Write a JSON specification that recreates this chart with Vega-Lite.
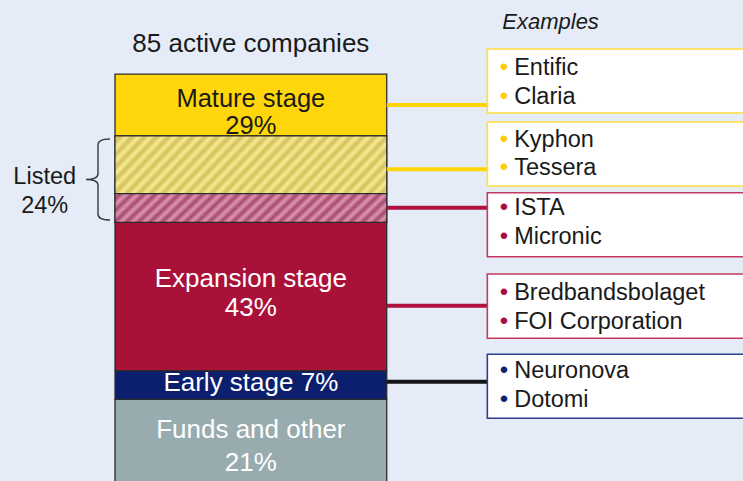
{
  "$schema": "https://vega.github.io/schema/vega-lite/v6.json",
  "width": 743,
  "height": 481,
  "autosize": {"type": "fit", "contains": "padding"},
  "padding": 0,
  "background": "#E5ECF7",
  "config": {"view": {"stroke": null}, "axis": {"disable": true}, "text": {"font": "Liberation Sans"}},
  "datasets": {
    "segments": [
      {"segment": "Funds and other", "stage": "Funds and other", "status": "Unlisted", "share": 21, "order": 1},
      {"segment": "Early stage", "stage": "Early stage", "status": "Unlisted", "share": 7, "order": 2},
      {"segment": "Expansion stage, unlisted", "stage": "Expansion stage", "status": "Unlisted", "share": 36, "order": 3},
      {"segment": "Expansion stage, listed", "stage": "Expansion stage", "status": "Listed", "share": 7, "order": 4},
      {"segment": "Mature stage, listed", "stage": "Mature stage", "status": "Listed", "share": 14, "order": 5},
      {"segment": "Mature stage, unlisted", "stage": "Mature stage", "status": "Unlisted", "share": 15, "order": 6}
    ],
    "stages": [
      {"stage": "Mature stage", "share": 29, "label": ["Mature stage", "29%"]},
      {"stage": "Expansion stage", "share": 43, "label": ["Expansion stage", "43%"]},
      {"stage": "Early stage", "share": 7, "label": "Early stage 7%"},
      {"stage": "Funds and other", "share": 21, "label": ["Funds and other", "21%"]},
      {"stage": "Listed", "share": 24, "label": ["Listed", "24%"]}
    ],
    "examples": [
      {"segment": "Mature stage, unlisted", "companies": ["Entific", "Claria"]},
      {"segment": "Mature stage, listed", "companies": ["Kyphon", "Tessera"]},
      {"segment": "Expansion stage, listed", "companies": ["ISTA", "Micronic"]},
      {"segment": "Expansion stage, unlisted", "companies": ["Bredbandsbolaget", "FOI Corporation"]},
      {"segment": "Early stage", "companies": ["Neuronova", "Dotomi"]}
    ]
  },
  "layer": [
    {
      "data": {"name": "segments"},
      "transform": [{"stack": "share", "groupby": [], "sort": [{"field": "order", "order": "ascending"}], "as": ["start", "end"]}],
      "encoding": {
        "x": {"datum": 15.48, "type": "quantitative", "scale": {"domain": [0, 100], "nice": false, "zero": false}, "axis": null},
        "x2": {"datum": 52.05},
        "y": {"field": "start", "type": "quantitative", "scale": {"domain": [1.2, 118], "nice": false, "zero": false}, "axis": null},
        "y2": {"field": "end"}
      },
      "layer": [
        {
          "mark": {"type": "rect", "stroke": "#2b2b2b", "strokeWidth": 1.3, "clip": true},
          "encoding": {
            "color": {"field": "segment", "type": "nominal", "legend": null,
              "scale": {"domain": ["Funds and other", "Early stage", "Expansion stage, unlisted", "Expansion stage, listed", "Mature stage, listed", "Mature stage, unlisted"],
                        "range": ["#98ABAF", "#0C1F6E", "#AA1139", "#C56A8C", "#EAD977", "#FFD60A"]}}
          }
        },
        {
          "transform": [{"filter": "datum.segment === 'Mature stage, listed'"}],
          "mark": {"type": "rect", "stroke": "#2b2b2b", "strokeWidth": 1.2,
            "fill": {"gradient": "linear", "x1": 0, "y1": 0, "x2": 1.2, "y2": 0.243, "stops": [
              {"offset": 0, "color": "#F7EA92"},{"offset": 0.0179, "color": "#D3C05A"},{"offset": 0.0357, "color": "#F7EA92"},{"offset": 0.0536, "color": "#D3C05A"},{"offset": 0.0714, "color": "#F7EA92"},{"offset": 0.0893, "color": "#D3C05A"},{"offset": 0.1071, "color": "#F7EA92"},{"offset": 0.125, "color": "#D3C05A"},{"offset": 0.1429, "color": "#F7EA92"},{"offset": 0.1607, "color": "#D3C05A"},{"offset": 0.1786, "color": "#F7EA92"},{"offset": 0.1964, "color": "#D3C05A"},{"offset": 0.2143, "color": "#F7EA92"},{"offset": 0.2321, "color": "#D3C05A"},{"offset": 0.25, "color": "#F7EA92"},{"offset": 0.2679, "color": "#D3C05A"},{"offset": 0.2857, "color": "#F7EA92"},{"offset": 0.3036, "color": "#D3C05A"},{"offset": 0.3214, "color": "#F7EA92"},{"offset": 0.3393, "color": "#D3C05A"},{"offset": 0.3571, "color": "#F7EA92"},{"offset": 0.375, "color": "#D3C05A"},{"offset": 0.3929, "color": "#F7EA92"},{"offset": 0.4107, "color": "#D3C05A"},{"offset": 0.4286, "color": "#F7EA92"},{"offset": 0.4464, "color": "#D3C05A"},{"offset": 0.4643, "color": "#F7EA92"},{"offset": 0.4821, "color": "#D3C05A"},{"offset": 0.5, "color": "#F7EA92"},{"offset": 0.5179, "color": "#D3C05A"},{"offset": 0.5357, "color": "#F7EA92"},{"offset": 0.5536, "color": "#D3C05A"},{"offset": 0.5714, "color": "#F7EA92"},{"offset": 0.5893, "color": "#D3C05A"},{"offset": 0.6071, "color": "#F7EA92"},{"offset": 0.625, "color": "#D3C05A"},{"offset": 0.6429, "color": "#F7EA92"},{"offset": 0.6607, "color": "#D3C05A"},{"offset": 0.6786, "color": "#F7EA92"},{"offset": 0.6964, "color": "#D3C05A"},{"offset": 0.7143, "color": "#F7EA92"},{"offset": 0.7321, "color": "#D3C05A"},{"offset": 0.75, "color": "#F7EA92"},{"offset": 0.7679, "color": "#D3C05A"},{"offset": 0.7857, "color": "#F7EA92"},{"offset": 0.8036, "color": "#D3C05A"},{"offset": 0.8214, "color": "#F7EA92"},{"offset": 0.8393, "color": "#D3C05A"},{"offset": 0.8571, "color": "#F7EA92"},{"offset": 0.875, "color": "#D3C05A"},{"offset": 0.8929, "color": "#F7EA92"},{"offset": 0.9107, "color": "#D3C05A"},{"offset": 0.9286, "color": "#F7EA92"},{"offset": 0.9464, "color": "#D3C05A"},{"offset": 0.9643, "color": "#F7EA92"},{"offset": 0.9821, "color": "#D3C05A"},{"offset": 1, "color": "#F7EA92"}
            ]}}
        },
        {
          "transform": [{"filter": "datum.segment === 'Expansion stage, listed'"}],
          "mark": {"type": "rect", "stroke": "#2b2b2b", "strokeWidth": 1.2,
            "fill": {"gradient": "linear", "x1": 0, "y1": 0, "x2": 1.2, "y2": 0.1325, "stops": [
              {"offset": 0, "color": "#DD96B0"},{"offset": 0.0179, "color": "#A7486C"},{"offset": 0.0357, "color": "#DD96B0"},{"offset": 0.0536, "color": "#A7486C"},{"offset": 0.0714, "color": "#DD96B0"},{"offset": 0.0893, "color": "#A7486C"},{"offset": 0.1071, "color": "#DD96B0"},{"offset": 0.125, "color": "#A7486C"},{"offset": 0.1429, "color": "#DD96B0"},{"offset": 0.1607, "color": "#A7486C"},{"offset": 0.1786, "color": "#DD96B0"},{"offset": 0.1964, "color": "#A7486C"},{"offset": 0.2143, "color": "#DD96B0"},{"offset": 0.2321, "color": "#A7486C"},{"offset": 0.25, "color": "#DD96B0"},{"offset": 0.2679, "color": "#A7486C"},{"offset": 0.2857, "color": "#DD96B0"},{"offset": 0.3036, "color": "#A7486C"},{"offset": 0.3214, "color": "#DD96B0"},{"offset": 0.3393, "color": "#A7486C"},{"offset": 0.3571, "color": "#DD96B0"},{"offset": 0.375, "color": "#A7486C"},{"offset": 0.3929, "color": "#DD96B0"},{"offset": 0.4107, "color": "#A7486C"},{"offset": 0.4286, "color": "#DD96B0"},{"offset": 0.4464, "color": "#A7486C"},{"offset": 0.4643, "color": "#DD96B0"},{"offset": 0.4821, "color": "#A7486C"},{"offset": 0.5, "color": "#DD96B0"},{"offset": 0.5179, "color": "#A7486C"},{"offset": 0.5357, "color": "#DD96B0"},{"offset": 0.5536, "color": "#A7486C"},{"offset": 0.5714, "color": "#DD96B0"},{"offset": 0.5893, "color": "#A7486C"},{"offset": 0.6071, "color": "#DD96B0"},{"offset": 0.625, "color": "#A7486C"},{"offset": 0.6429, "color": "#DD96B0"},{"offset": 0.6607, "color": "#A7486C"},{"offset": 0.6786, "color": "#DD96B0"},{"offset": 0.6964, "color": "#A7486C"},{"offset": 0.7143, "color": "#DD96B0"},{"offset": 0.7321, "color": "#A7486C"},{"offset": 0.75, "color": "#DD96B0"},{"offset": 0.7679, "color": "#A7486C"},{"offset": 0.7857, "color": "#DD96B0"},{"offset": 0.8036, "color": "#A7486C"},{"offset": 0.8214, "color": "#DD96B0"},{"offset": 0.8393, "color": "#A7486C"},{"offset": 0.8571, "color": "#DD96B0"},{"offset": 0.875, "color": "#A7486C"},{"offset": 0.8929, "color": "#DD96B0"},{"offset": 0.9107, "color": "#A7486C"},{"offset": 0.9286, "color": "#DD96B0"},{"offset": 0.9464, "color": "#A7486C"},{"offset": 0.9643, "color": "#DD96B0"},{"offset": 0.9821, "color": "#A7486C"},{"offset": 1, "color": "#DD96B0"}
            ]}}
        }
      ]
    },
    {
      "data": {"name": "stages"},
      "layer": [
        {"transform": [{"filter": "datum.stage === 'Mature stage'"}],
         "mark": {"type": "text", "fontSize": 25.5, "lineHeight": 27, "align": "center", "baseline": "middle", "color": "#1a1a1a"},
         "encoding": {"x": {"datum": 33.76}, "y": {"datum": 93.84}, "text": {"field": "label"}}},
        {"transform": [{"filter": "datum.stage === 'Expansion stage'"}],
         "mark": {"type": "text", "fontSize": 26, "lineHeight": 29, "align": "center", "baseline": "middle", "color": "#ffffff"},
         "encoding": {"x": {"datum": 33.76}, "y": {"datum": 50.13}, "text": {"field": "label"}}},
        {"transform": [{"filter": "datum.stage === 'Early stage'"}],
         "mark": {"type": "text", "fontSize": 26, "align": "center", "baseline": "middle", "color": "#ffffff"},
         "encoding": {"x": {"datum": 33.76}, "y": {"datum": 24.95}, "text": {"field": "label"}}},
        {"transform": [{"filter": "datum.stage === 'Funds and other'"}],
         "mark": {"type": "text", "fontSize": 26, "lineHeight": 33, "align": "center", "baseline": "middle", "color": "#ffffff"},
         "encoding": {"x": {"datum": 33.76}, "y": {"datum": 13.63}, "text": {"field": "label"}}},
        {"transform": [{"filter": "datum.stage === 'Listed'"}],
         "mark": {"type": "text", "fontSize": 23.5, "lineHeight": 29.5, "align": "center", "baseline": "middle", "color": "#1a1a1a"},
         "encoding": {"x": {"datum": 6.02}, "y": {"datum": 75.04}, "text": {"field": "label"}}},
        {"transform": [{"filter": "datum.stage === 'Listed'"}],
         "mark": {"type": "point", "shape": "M0.296,-1 C0.1,-1 0,-0.96 0,-0.85 L0,-0.14 C0,-0.05 -0.12,0 -0.296,0 C-0.12,0 0,0.05 0,0.14 L0,0.85 C0,0.96 0.1,1 0.296,1", "size": 6561, "filled": false, "stroke": "#3a3a3a", "strokeWidth": 1.4, "opacity": 1},
         "encoding": {"x": {"datum": 13.19}, "y": {"datum": 74.41}}}
      ]
    },
    {
      "data": {"values": [{"title": "85 active companies", "header": "Examples"}]},
      "layer": [
        {"mark": {"type": "text", "fontSize": 26, "align": "center", "baseline": "middle", "color": "#1a1a1a"},
         "encoding": {"x": {"datum": 33.76}, "y": {"datum": 107.32}, "text": {"field": "title"}}},
        {"mark": {"type": "text", "fontSize": 22, "fontStyle": "italic", "align": "left", "baseline": "middle", "color": "#1a1a1a"},
         "encoding": {"x": {"datum": 67.6}, "y": {"datum": 112.58}, "text": {"field": "header"}}}
      ]
    },
    {
      "data": {"name": "examples"},
      "transform": [{"filter": "datum.segment === 'Mature stage, unlisted'"}],
      "layer": [
        {"mark": {"type": "rule", "color": "#FFD400", "strokeWidth": 4}, "encoding": {"x": {"datum": 52.05}, "x2": {"datum": 65.59}, "y": {"datum": 92.5}}},
        {"mark": {"type": "rect", "fill": "#ffffff", "stroke": "#FFDD3C", "strokeWidth": 1.6, "clip": true}, "encoding": {"x": {"datum": 65.59}, "x2": {"datum": 101}, "y": {"datum": 106.1}, "y2": {"datum": 90.56}}},
        {"mark": {"type": "text", "fontSize": 24, "lineHeight": 28.8, "lineBreak": "\n", "align": "center", "baseline": "middle", "color": "#FFCC00"}, "encoding": {"x": {"datum": 67.83}, "y": {"datum": 101.46}, "text": {"value": "•\n•"}}},
        {"mark": {"type": "text", "fontSize": 23.5, "lineHeight": 28.8, "align": "left", "baseline": "middle", "color": "#1a1a1a"}, "encoding": {"x": {"datum": 69.2}, "y": {"datum": 101.46}, "text": {"field": "companies"}}}
      ]
    },
    {
      "data": {"name": "examples"},
      "transform": [{"filter": "datum.segment === 'Mature stage, listed'"}],
      "layer": [
        {"mark": {"type": "rule", "color": "#FFD400", "strokeWidth": 4}, "encoding": {"x": {"datum": 52.05}, "x2": {"datum": 65.59}, "y": {"datum": 76.89}}},
        {"mark": {"type": "rect", "fill": "#ffffff", "stroke": "#FFDD3C", "strokeWidth": 1.6, "clip": true}, "encoding": {"x": {"datum": 65.59}, "x2": {"datum": 101}, "y": {"datum": 88.37}, "y2": {"datum": 72.83}}},
        {"mark": {"type": "text", "fontSize": 24, "lineHeight": 28.8, "lineBreak": "\n", "align": "center", "baseline": "middle", "color": "#FFCC00"}, "encoding": {"x": {"datum": 67.83}, "y": {"datum": 84.08}, "text": {"value": "•\n•"}}},
        {"mark": {"type": "text", "fontSize": 23.5, "lineHeight": 28.8, "align": "left", "baseline": "middle", "color": "#1a1a1a"}, "encoding": {"x": {"datum": 69.2}, "y": {"datum": 84.08}, "text": {"field": "companies"}}}
      ]
    },
    {
      "data": {"name": "examples"},
      "transform": [{"filter": "datum.segment === 'Expansion stage, listed'"}],
      "layer": [
        {"mark": {"type": "rule", "color": "#B01040", "strokeWidth": 4}, "encoding": {"x": {"datum": 52.05}, "x2": {"datum": 65.59}, "y": {"datum": 67.56}}},
        {"mark": {"type": "rect", "fill": "#ffffff", "stroke": "#C23A62", "strokeWidth": 1.6, "clip": true}, "encoding": {"x": {"datum": 65.59}, "x2": {"datum": 101}, "y": {"datum": 71.21}, "y2": {"datum": 55.67}}},
        {"mark": {"type": "text", "fontSize": 24, "lineHeight": 28.8, "lineBreak": "\n", "align": "center", "baseline": "middle", "color": "#A50F3C"}, "encoding": {"x": {"datum": 67.83}, "y": {"datum": 67.52}, "text": {"value": "•\n•"}}},
        {"mark": {"type": "text", "fontSize": 23.5, "lineHeight": 28.8, "align": "left", "baseline": "middle", "color": "#1a1a1a"}, "encoding": {"x": {"datum": 69.2}, "y": {"datum": 67.52}, "text": {"field": "companies"}}}
      ]
    },
    {
      "data": {"name": "examples"},
      "transform": [{"filter": "datum.segment === 'Expansion stage, unlisted'"}],
      "layer": [
        {"mark": {"type": "rule", "color": "#B01040", "strokeWidth": 4}, "encoding": {"x": {"datum": 52.05}, "x2": {"datum": 65.59}, "y": {"datum": 43.77}}},
        {"mark": {"type": "rect", "fill": "#ffffff", "stroke": "#C23A62", "strokeWidth": 1.6, "clip": true}, "encoding": {"x": {"datum": 65.59}, "x2": {"datum": 101}, "y": {"datum": 51.47}, "y2": {"datum": 35.85}}},
        {"mark": {"type": "text", "fontSize": 24, "lineHeight": 28.8, "lineBreak": "\n", "align": "center", "baseline": "middle", "color": "#A50F3C"}, "encoding": {"x": {"datum": 67.83}, "y": {"datum": 46.83}, "text": {"value": "•\n•"}}},
        {"mark": {"type": "text", "fontSize": 23.5, "lineHeight": 28.8, "align": "left", "baseline": "middle", "color": "#1a1a1a"}, "encoding": {"x": {"datum": 69.2}, "y": {"datum": 46.83}, "text": {"field": "companies"}}}
      ]
    },
    {
      "data": {"name": "examples"},
      "transform": [{"filter": "datum.segment === 'Early stage'"}],
      "layer": [
        {"mark": {"type": "rule", "color": "#151515", "strokeWidth": 4}, "encoding": {"x": {"datum": 52.05}, "x2": {"datum": 65.59}, "y": {"datum": 25.31}}},
        {"mark": {"type": "rect", "fill": "#ffffff", "stroke": "#2C3E8C", "strokeWidth": 1.6, "clip": true}, "encoding": {"x": {"datum": 65.59}, "x2": {"datum": 101}, "y": {"datum": 31.97}, "y2": {"datum": 16.43}}},
        {"mark": {"type": "text", "fontSize": 24, "lineHeight": 28.8, "lineBreak": "\n", "align": "center", "baseline": "middle", "color": "#0D2272"}, "encoding": {"x": {"datum": 67.83}, "y": {"datum": 27.81}, "text": {"value": "•\n•"}}},
        {"mark": {"type": "text", "fontSize": 23.5, "lineHeight": 28.8, "align": "left", "baseline": "middle", "color": "#1a1a1a"}, "encoding": {"x": {"datum": 69.2}, "y": {"datum": 27.81}, "text": {"field": "companies"}}}
      ]
    }
  ]
}
